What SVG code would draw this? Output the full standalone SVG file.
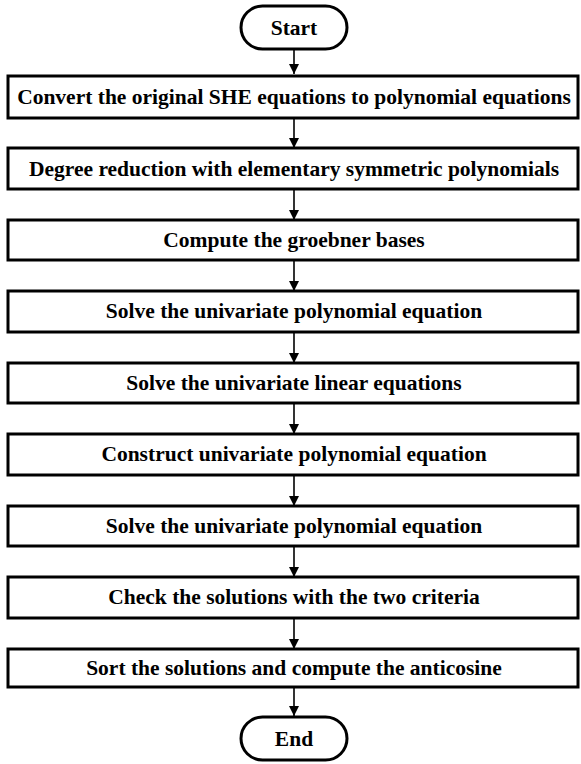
<svg xmlns="http://www.w3.org/2000/svg" width="581" height="764" viewBox="0 0 581 764">
<defs>
<style>
.box{fill:#fff;stroke:#000;stroke-width:3}
.t{font-family:"Liberation Serif","Times New Roman",serif;font-weight:bold;font-size:21.5px;text-anchor:middle;dominant-baseline:central;fill:#000}
.c{stroke:#000;stroke-width:1.6;fill:none}
</style>
<marker id="ah" markerWidth="10" markerHeight="10" viewBox="0 0 10 10" refX="10" refY="5" orient="auto" markerUnits="userSpaceOnUse">
<path d="M0,0 L10,5 L0,10 Z" fill="#000"/>
</marker>
</defs>
<rect width="581" height="764" fill="#fff"/>
<g id="connectors">
<line class="c" x1="294" y1="49" x2="294" y2="74" marker-end="url(#ah)"/>
<line class="c" x1="294" y1="117" x2="294" y2="148" marker-end="url(#ah)"/>
<line class="c" x1="294" y1="189" x2="294" y2="220" marker-end="url(#ah)"/>
<line class="c" x1="294" y1="260" x2="294" y2="291" marker-end="url(#ah)"/>
<line class="c" x1="294" y1="332" x2="294" y2="363" marker-end="url(#ah)"/>
<line class="c" x1="294" y1="403" x2="294" y2="434" marker-end="url(#ah)"/>
<line class="c" x1="294" y1="475" x2="294" y2="506" marker-end="url(#ah)"/>
<line class="c" x1="294" y1="546" x2="294" y2="577" marker-end="url(#ah)"/>
<line class="c" x1="294" y1="618" x2="294" y2="649" marker-end="url(#ah)"/>
<line class="c" x1="294" y1="687" x2="294" y2="716" marker-end="url(#ah)"/>
</g>
<g id="start"><rect class="box" x="241" y="6" width="106" height="43" rx="21.5"/><text class="t" x="294" y="28">Start</text></g>
<g id="n1"><rect class="box" x="8" y="76" width="570" height="42"/><text class="t" x="294" y="97">Convert the original SHE equations to polynomial equations</text></g>
<g id="n2"><rect class="box" x="8" y="148" width="570" height="41"/><text class="t" x="294" y="169">Degree reduction with elementary symmetric polynomials</text></g>
<g id="n3"><rect class="box" x="8" y="220" width="570" height="40"/><text class="t" x="294" y="240">Compute the groebner bases</text></g>
<g id="n4"><rect class="box" x="8" y="291" width="570" height="41"/><text class="t" x="294" y="311">Solve the univariate polynomial equation</text></g>
<g id="n5"><rect class="box" x="8" y="363" width="570" height="40"/><text class="t" x="294" y="383">Solve the univariate linear equations</text></g>
<g id="n6"><rect class="box" x="8" y="434" width="570" height="41"/><text class="t" x="294" y="454">Construct univariate polynomial equation</text></g>
<g id="n7"><rect class="box" x="8" y="506" width="570" height="40"/><text class="t" x="294" y="526">Solve the univariate polynomial equation</text></g>
<g id="n8"><rect class="box" x="8" y="577" width="570" height="41"/><text class="t" x="294" y="597">Check the solutions with the two criteria</text></g>
<g id="n9"><rect class="box" x="8" y="649" width="570" height="38"/><text class="t" x="294" y="668">Sort the solutions and compute the anticosine</text></g>
<g id="end"><rect class="box" x="241" y="717" width="106" height="43" rx="21.5"/><text class="t" x="294" y="739">End</text></g>
</svg>
